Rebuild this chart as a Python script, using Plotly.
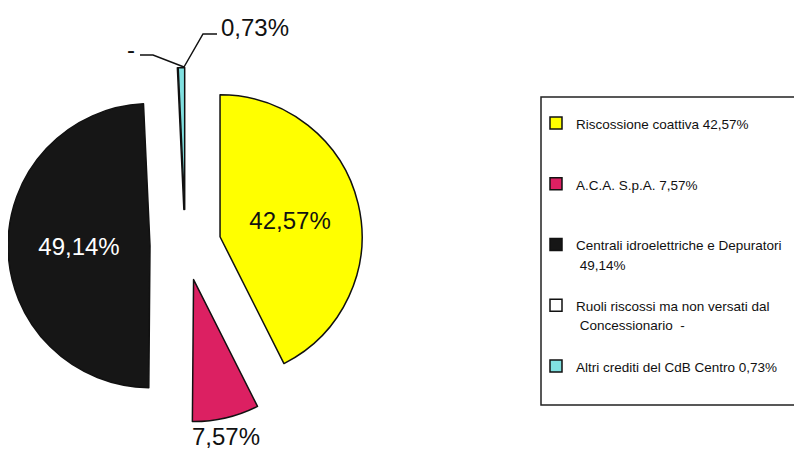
import plotly.graph_objects as go

W, H = 802, 450
OFF = 8  # page body margin of the browser

labels = [
    "Riscossione coattiva 42,57%",
    "A.C.A. S.p.A. 7,57%",
    "Centrali idroelettriche e Depuratori<br> 49,14%",
    "Ruoli riscossi ma non versati dal<br> Concessionario  -",
    "Altri crediti del CdB Centro 0,73%",
]
values = [42.57, 7.57, 49.14, 0, 0.73]
colors = ["#ffff00", "#dc2062", "#161616", "#ffffff", "#80e0e0"]
text_pos = ["inside", "none", "inside", "none", "none"]
text_colors = ["#111111", "#111111", "#ffffff", "#111111", "#111111"]

FONT = "Liberation Sans, Arial, sans-serif"


def px(x):
    return (x - OFF) / W


def py(y):
    return 1 - (y - OFF) / H


def pct(v):
    return "-" if v == 0 else f"{v:.2f}".replace(".", ",") + "%"


def legend_label(lab):
    n = lab.count("<br>") + 1
    body = "<br>".join(f"<span style='font-size:13.5px'>{p}</span>" for p in lab.split("<br>"))
    return body + "<br>\u00a0" * (3 - n)


fig = go.Figure()
fig.add_trace(go.Pie(
    labels=[legend_label(l) for l in labels],
    values=values,
    sort=False,
    direction="clockwise",
    rotation=0,
    pull=0.25,
    marker=dict(colors=colors, line=dict(color="#111111", width=1.5)),
    texttemplate="%{percent:.2%}",
    textposition=text_pos,
    insidetextorientation="horizontal",
    insidetextfont=dict(family=FONT, size=24, color=text_colors),
    domain=dict(x=[px(8), px(363)], y=[py(422.5), py(67.5)]),
    hoverinfo="label+percent",
))

shapes = [
    # legend frame
    dict(type="rect", xref="paper", yref="paper",
         x0=px(541), x1=px(800), y0=py(405), y1=py(97),
         line=dict(color="#222222", width=1.5), fillcolor="rgba(0,0,0,0)"),
    # leader line for 0,73%
    dict(type="path", xref="paper", yref="paper",
         path=f"M {px(184)},{py(67)} L {px(203)},{py(34)} L {px(217)},{py(34)}",
         line=dict(color="#111111", width=1.5)),
    # leader line for "-"
    dict(type="path", xref="paper", yref="paper",
         path=f"M {px(184)},{py(67)} L {px(153)},{py(55)} L {px(140)},{py(55)}",
         line=dict(color="#111111", width=1.5)),
]

annotations = [
    dict(text=pct(values[4]), x=px(219), y=py(27), xref="paper", yref="paper",
         xanchor="left", yanchor="middle", showarrow=False,
         font=dict(family=FONT, size=24, color="#111111")),
    dict(text=pct(values[3]), x=px(131), y=py(49), xref="paper", yref="paper",
         xanchor="center", yanchor="middle", showarrow=False,
         font=dict(family=FONT, size=24, color="#111111")),
    dict(text=pct(values[1]), x=px(226), y=py(436), xref="paper", yref="paper",
         xanchor="center", yanchor="middle", showarrow=False,
         font=dict(family=FONT, size=24, color="#111111")),
]

fig.update_layout(
    width=W, height=H,
    margin=dict(l=0, r=0, t=0, b=0, autoexpand=False),
    paper_bgcolor="white",
    plot_bgcolor="white",
    separators=",.",
    showlegend=True,
    legend=dict(
        x=px(536), y=py(107), xanchor="left", yanchor="top",
        font=dict(family=FONT, size=14.8, color="#111111"),
        valign="top", borderwidth=0, bgcolor="rgba(0,0,0,0)",
        traceorder="normal",
    ),
    shapes=shapes,
    annotations=annotations,
)

fig.write_html("out.html")
